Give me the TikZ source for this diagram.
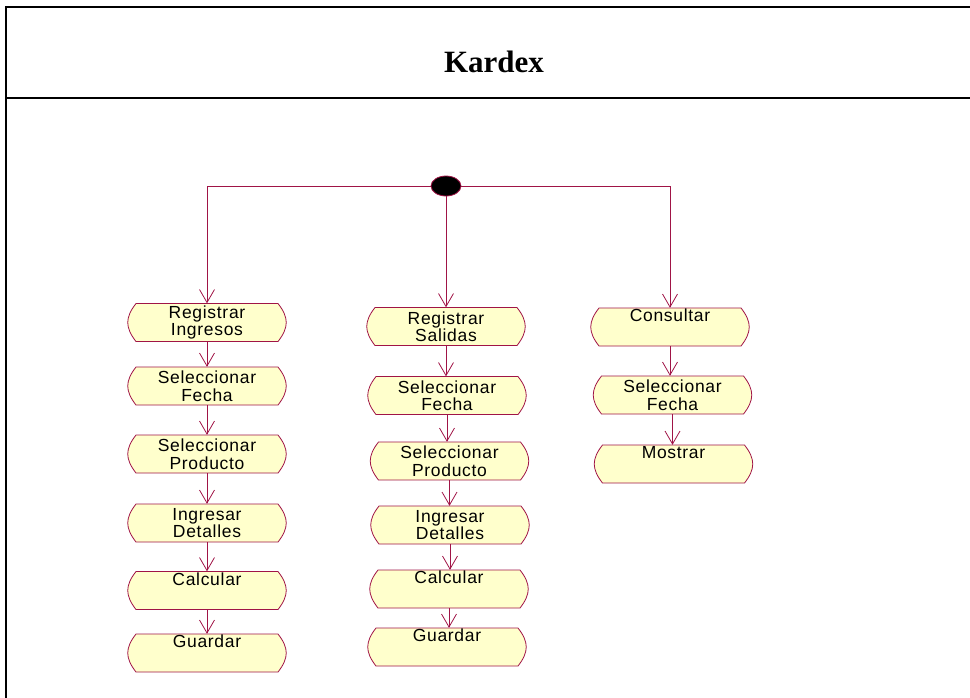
\documentclass[tikz,border=0pt]{standalone}
\usepackage{fontspec}
\setmainfont{Liberation Serif}
\newfontfamily\arialls{Liberation Sans}[LetterSpace=4.0]
\usetikzlibrary{shapes.geometric,arrows.meta}
\definecolor{umlline}{RGB}{160,20,70}
\definecolor{umlfill}{RGB}{255,255,204}
\tikzset{
 acttext/.style={rectangle, draw=none, minimum width=158pt, minimum height=38pt, inner sep=0pt, align=center, font=\arialls\fontsize{17.5}{17.5}\selectfont},
 actshape/.style={fill=umlfill, draw=umlline, line width=0.8pt},
 flow/.style={draw=umlline, line width=0.8pt, -{Straight Barb[length=13pt,width=15pt,line width=0.8pt]}},
 startnode/.style={ellipse, fill=black, draw=umlline, line width=0.8pt, minimum width=30pt, minimum height=20pt, inner sep=0pt},
 framestyle/.style={line width=2pt, black},
}
\newcommand\actnode[4]{%
 \path[actshape] (#2-71,#3+19) -- (#2+71,#3+19)
   .. controls (#2+82,#3+5) and (#2+82,#3-5) .. (#2+71,#3-19)
   -- (#2-71,#3-19)
   .. controls (#2-82,#3-5) and (#2-82,#3+5) .. (#2-71,#3+19) -- cycle;
 \node[acttext] (#1) at (#2,#3) {#4};}
\begin{document}
\begin{tikzpicture}[x=1pt,y=1pt]
\useasboundingbox (0,0) rectangle (970,-697);
% frame
\draw[framestyle] (6,-700) -- (6,-7) -- (980,-7);
\draw[framestyle] (6,-98) -- (980,-98);
\node[font=\bfseries\fontsize{31}{31}\selectfont, anchor=base] (title) at (494,-72) {Kardex};
% start
\node[startnode] (start) at (446,-186) {};
% column 1
\actnode{ri}{207}{-322.5}{Registrar\\Ingresos}
\actnode{sf1}{207}{-386}{Seleccionar\\Fecha}
\actnode{sp1}{207}{-454}{Seleccionar\\Producto}
\actnode{id1}{207}{-523}{Ingresar\\Detalles}
\actnode{ca1}{207}{-590.5}{Calcular\\\strut}
\actnode{gu1}{207}{-653}{Guardar\\\strut}
% column 2
\actnode{rs}{446}{-326.5}{Registrar\\Salidas}
\actnode{sf2}{447}{-395.5}{Seleccionar\\Fecha}
\actnode{sp2}{449.5}{-461}{Seleccionar\\Producto}
\actnode{id2}{450}{-525}{Ingresar\\Detalles}
\actnode{ca2}{449}{-589}{Calcular\\\strut}
\actnode{gu2}{447}{-647}{Guardar\\\strut}
% column 3
\actnode{co}{670}{-327}{Consultar\\\strut}
\actnode{sf3}{672.5}{-395}{Seleccionar\\Fecha}
\actnode{mo}{673.5}{-464}{Mostrar\\\strut}
% connectors from start
\draw[flow] (start.west) -| (ri.north);
\draw[flow] (start.south) -- (rs.north);
\draw[flow] (start.east) -| (co.north);
% column 1 flow
\draw[flow] (ri.south) -- (sf1.north);
\draw[flow] (sf1.south) -- (sp1.north);
\draw[flow] (sp1.south) -- (id1.north);
\draw[flow] (id1.south) -- (ca1.north);
\draw[flow] (ca1.south) -- (gu1.north);
% column 2 flow
\draw[flow] (rs.south) -- (rs.south |- sf2.north);
\draw[flow] (sf2.south) -- (sf2.south |- sp2.north);
\draw[flow] (sp2.south) -- (sp2.south |- id2.north);
\draw[flow] (id2.south) -- (id2.south |- ca2.north);
\draw[flow] (ca2.south) -- (ca2.south |- gu2.north);
% column 3 flow
\draw[flow] (co.south) -- (co.south |- sf3.north);
\draw[flow] (sf3.south) -- (sf3.south |- mo.north);
\end{tikzpicture}
\end{document}
